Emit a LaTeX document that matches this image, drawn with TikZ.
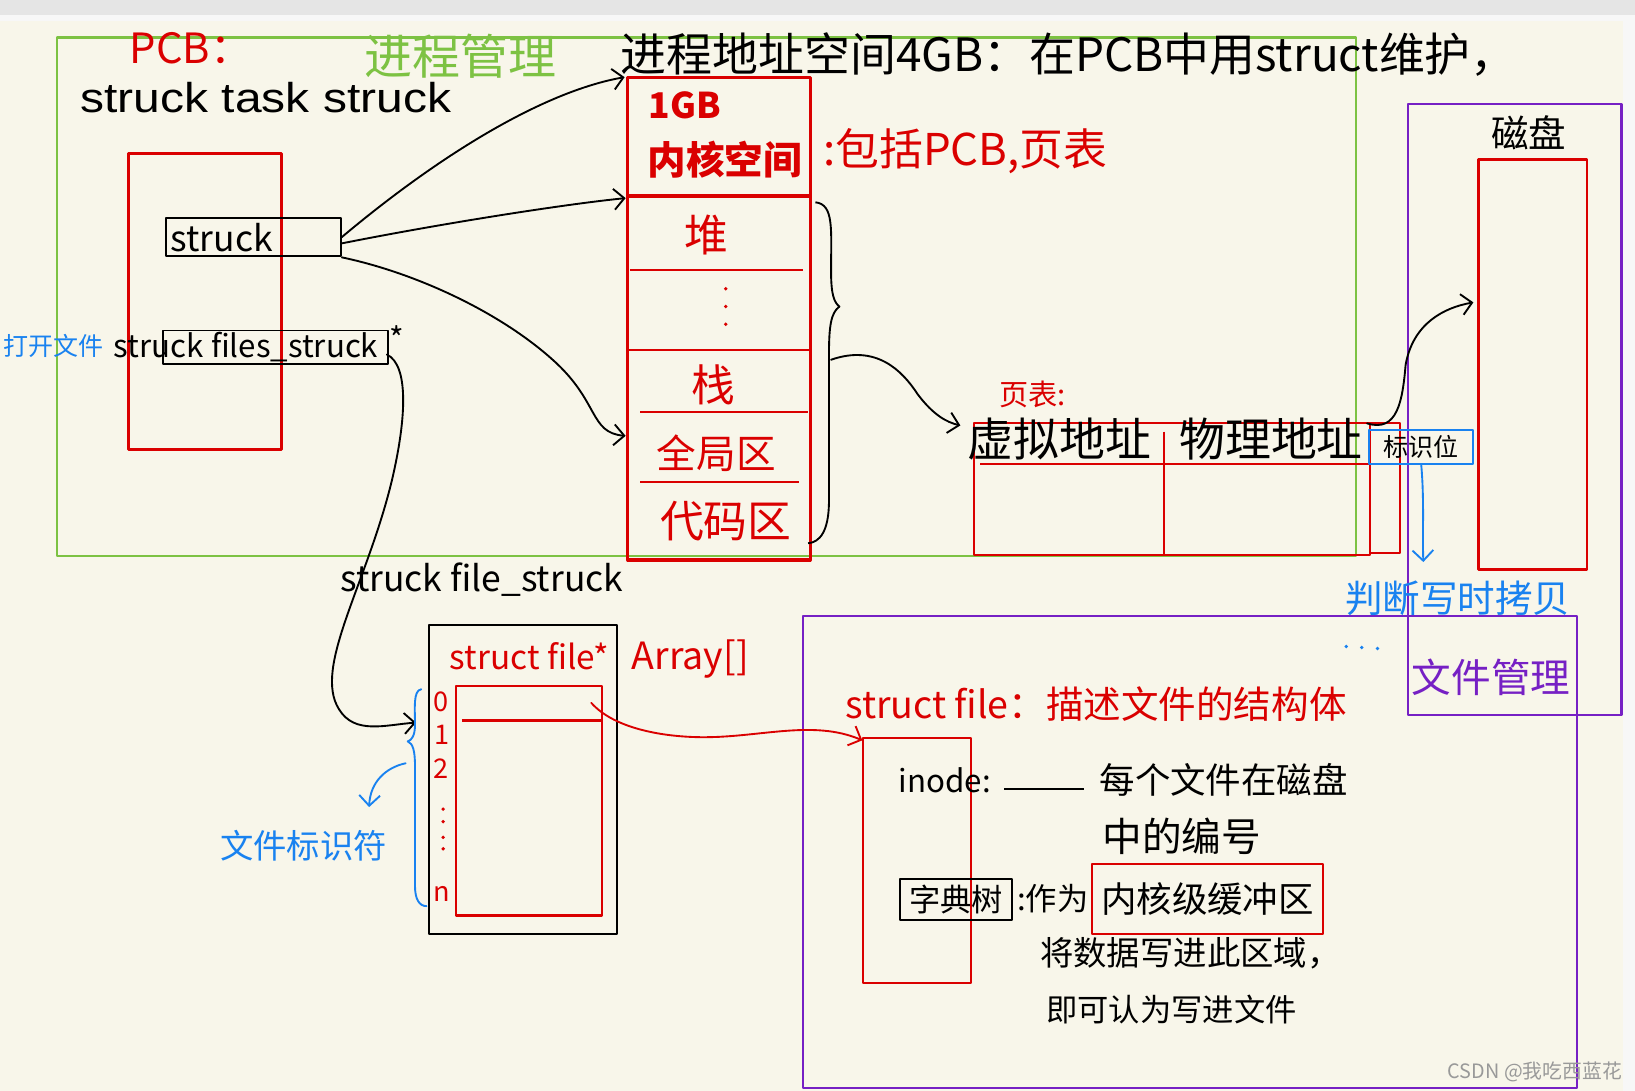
\documentclass[tikz,border=0pt]{standalone}
\usepackage{fontspec}
\usepackage{graphicx}
\setmainfont{Noto Sans CJK SC}
\newfontfamily\printfont{Liberation Sans}
\usetikzlibrary{arrows.meta, calc}
\definecolor{paper}{RGB}{248,246,234}
\definecolor{penred}{RGB}{218,0,0}
\definecolor{pengreen}{RGB}{125,194,67}
\definecolor{penblue}{RGB}{25,130,240}
\definecolor{penpurple}{RGB}{118,32,196}
\tikzset{>={Straight Barb[length=10pt,width=20pt,line width=1.8pt]}}
\tikzstyle{memline} = [penred, line width=3]
\tikzstyle{redline} = [penred, line width=2]
\tikzstyle{greenframe} = [pengreen, line width=2]
\tikzstyle{purpleframe} = [penpurple, line width=2]
\tikzstyle{blackbox} = [draw, line width=1.8, inner sep=0, anchor=north west]
\tikzstyle{ink} = [black, line width=1.8, line cap=round, ->]
\tikzstyle{redink} = [penred, line width=1.8, line cap=round, ->]
\tikzstyle{blueink} = [penblue, line width=1.8, line cap=round]
\newcommand{\hw}[1]{\fontsize{#1}{#1}\selectfont}
\newcommand{\inkdot}[2]{
\fill[#2] (#1) circle (1.8pt);
}

\begin{document}
\begin{tikzpicture}[x=1pt, y=-1pt, line join=round]
		% Paper
		\useasboundingbox (0,0) rectangle (1568,1046);
		\fill[white!97!black] (0,0) rectangle (1568,1046);
		\fill[white!90!black] (0,0) rectangle (1568,14);
		\fill[paper] (0,20) rectangle (1556,1046);
		
		% Coordinates
		\coordinate (mem-nw) at (602,74);
		\coordinate (mem-se) at (777,537);
		\coordinate (mem-heap) at (600,190);
		\coordinate (mem-data) at (600,418);
		\coordinate (brace-tip) at (797,345);
		\coordinate (pt-nw) at (934,406);
		\coordinate (pt-se) at (1314,532);
		\coordinate (disk-nw) at (1418,153);
		\coordinate (disk-se) at (1522,546);
		\coordinate (disk-in) at (1413,290);
		\coordinate (arr-nw) at (411,599);
		\coordinate (arr-se) at (592,896);
		\coordinate (fd-in) at (399,693);
		\coordinate (fd-one) at (567,674);
		\coordinate (fs-nw) at (828,708);
		\coordinate (fs-se) at (931,943);
		
		% Frames
		\draw[greenframe] (55,36) rectangle (1300,533);
		\draw[purpleframe] (1350,100) rectangle (1555,686);
		\draw[purpleframe] (770,591) rectangle (1512,1043);
		
		% PCB
		\node[penred, font=\hw{40}] (pcb) at (183,46) {PCB：};
		\node[pengreen, font=\hw{46}] (proc) at (442,54) {进程管理};
		\node[font=\printfont\fontsize{40}{40}\selectfont] (task) at (255,94) {\scalebox{1.15}[1]{struck task struck}};
		\draw[memline] (123,147) rectangle (270,431);
		\node[blackbox, minimum width=168pt, minimum height=37pt] (sbox) at (158,208) {};
		\node[font=\hw{34}, anchor=west] (stext) at (160,228) {struck};
		\node[blackbox, minimum width=216pt, minimum height=32pt] (fbox) at (155,316) {};
		\node[font=\hw{30}] (ftext) at (236,333) {struck files\_struck};
		\node[font=\hw{30}] (star) at (381,324) {*};
		\node[penblue, font=\hw{24}] (open) at (51,332) {打开文件};
		
		% Address space
		\node[font=\hw{44}] (space) at (1025,52) {进程地址空间4GB：在PCB中用struct维护，};
		\draw[memline] (mem-nw) rectangle (mem-se);
		\draw[memline] (602,188) -- (777,188);
		\draw[redline] (604,259) -- (770,259);
		\draw[redline] (602,336) -- (777,336);
		\draw[redline] (614,395) -- (775,395);
		\draw[redline] (614,462) -- (766,462);
		\node[penred, font=\bfseries\hw{34}] (gb) at (657,101) {1GB};
		\node[penred, font=\bfseries\hw{37}] (kern) at (695,153) {内核空间};
		\node[penred, font=\hw{42}] (heap) at (677,225) {堆};
		\inkdot{696,277}{penred}
		\inkdot{696,294}{penred}
		\inkdot{696,311}{penred}
		\node[penred, font=\hw{42}] (stack) at (684,369) {栈};
		\node[penred, font=\hw{38}] (data) at (687,435) {全局区};
		\node[penred, font=\hw{42}] (code) at (696,500) {代码区};
		\node[penred, font=\hw{42}, anchor=west] (incl) at (786,145) {:包括PCB,页表};
		
		% Arrows from struck
		\draw[ink] (sbox.east) .. controls (420,150) and (520,88) .. (599,74);
		\draw[ink] ([yshift=-6pt]sbox.east) .. controls (420,215) and (540,196) .. (mem-heap);
		\draw[ink] (sbox.south east) .. controls (400,262) and (480,300) .. (530,345) .. controls (575,385) and (565,415) .. (mem-data);
		
		% Brace
		\draw[black, line width=1.8] (782,194) .. controls (800,196) and (797,220) .. (797,260) .. controls (797,283) and (800,290) .. (805,294) .. controls (797,300) and (795,312) .. (795,340) -- (795,480) .. controls (795,510) and (786,520) .. (775,521);
		\draw[ink] (brace-tip) .. controls (840,330) and (865,355) .. (880,378) .. controls (895,398) and (908,405) .. (921,408);
		
		% Page table
		\node[penred, font=\hw{28}] (ptlabel) at (990,378) {页表:};
		\draw[redline] (pt-nw) rectangle (pt-se);
		\draw[redline] (1314,406) rectangle (1343,530);
		\draw[redline] (940,445) -- (1314,445);
		\draw[redline] (1116,414) -- (1116,532);
		\node[font=\hw{44}] (va) at (1016,421) {虚拟地址};
		\node[font=\hw{44}] (pa) at (1219,421) {物理地址};
		\node[draw=penblue, line width=2, minimum width=100pt, minimum height=33pt, inner sep=0, font=\hw{24}] (flag) at (1363,428.5) {标识位};
		\draw[ink] (1311,406) .. controls (1340,415) and (1345,385) .. (1348,350) .. controls (1355,310) and (1385,295) .. (disk-in);
		\draw[blueink, ->] (flag.south) .. controls (1366,480) and (1364,510) .. (1365,539);
		\node[penblue, font=\hw{36}] (cow) at (1398,574) {判断写时拷贝};
		\inkdot{1291,620}{penblue}
		\inkdot{1306,621}{penblue}
		\inkdot{1321,622}{penblue}
		
		% Disk
		\node[font=\hw{36}] (disk) at (1466,127) {磁盘};
		\draw[penred, line width=2.5] (disk-nw) rectangle (disk-se);
		\node[penpurple, font=\hw{38}] (fm) at (1430,650) {文件管理};
		
		% File descriptor table
		\node[font=\hw{34}] (fstruct) at (462,556) {struck file\_struck};
		\draw[ink] (371,340) .. controls (392,350) and (390,400) .. (376,460) .. controls (352,560) and (300,640) .. (325,680) .. controls (340,705) and (370,695) .. (fd-in);
		\draw[black, line width=2] (arr-nw) rectangle (arr-se);
		\node[penred, font=\hw{32}] (fptr) at (508,629) {struct file*};
		\node[penred, font=\hw{36}] (arr) at (662,632) {Array[]};
		\draw[redline] (437,658) rectangle (577,878);
		\draw[redline] (443,691) -- (577,691);
		\node[penred, font=\hw{26}] (i0) at (423,673) {0};
		\node[penred, font=\hw{26}] (i1) at (424,705) {1};
		\node[penred, font=\hw{26}] (i2) at (423,737) {2};
		\inkdot{425,776}{penred}
		\inkdot{425,788}{penred}
		\inkdot{425,803}{penred}
		\inkdot{425,814}{penred}
		\node[penred, font=\hw{26}] (in) at (424,857) {n};
		\draw[blueink] (404,661) .. controls (396,662) and (398,680) .. (398,695) .. controls (398,705) and (395,710) .. (391,711) .. controls (396,713) and (398,720) .. (398,735) -- (398,850) .. controls (398,862) and (402,869) .. (409,869);
		\draw[blueink, ->] (389,732) .. controls (370,736) and (355,750) .. (354,774);
		\node[penblue, font=\hw{32}] (fdname) at (291,811) {文件标识符};
		\draw[redink] (fd-one) .. controls (590,700) and (640,707) .. (675,707) .. controls (730,707) and (780,690) .. (827,710);
		
		% struct file
		\node[penred, font=\hw{36}] (sfile) at (1051,675) {struct file：描述文件的结构体};
		\draw[redline] (fs-nw) rectangle (fs-se);
		\node[font=\hw{30}] (inode) at (906,748) {inode:};
		\draw[black, line width=1.8] (963,757) -- (1040,757);
		\node[font=\hw{34}, anchor=west] (inum) at (1051,748) {每个文件在磁盘};
		\node[font=\hw{38}, anchor=west] (inum2) at (1054,802) {中的编号};
		\node[blackbox, minimum width=108pt, minimum height=39pt, font=\hw{30}] (trie) at (862,842) {字典树};
		\node[font=\hw{30}, anchor=west] (as) at (972,862) {:作为};
		\node[draw=penred, line width=2, minimum width=222pt, minimum height=67pt, inner sep=0, font=\hw{34}] (buf) at (1158,862.5) {内核级缓冲区};
		\node[font=\hw{32}, anchor=west] (write) at (994,914) {将数据写进此区域，};
		\node[font=\hw{30}, anchor=west] (done) at (1000,968) {即可认为写进文件};
		
		% Watermark
		\node[white!60!black, font=\hw{19}] (mark) at (1472,1028) {CSDN @我吃西蓝花};
	\end{tikzpicture}
\end{document}
